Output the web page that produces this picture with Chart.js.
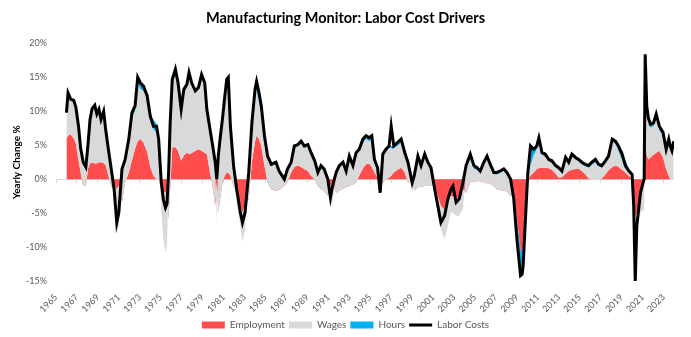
<!doctype html>
<html lang="en">
    <head>
        <meta charset="UTF-8" />
        <title>Manufacturing Monitor: Labor Cost Drivers</title>
        <script src="https://cdn.jsdelivr.net/npm/chart.js"></script>
        <style>
            body {
                margin: 0;
                background: #fff;
            }
            #chart-container {
                width: 691px;
                height: 337px;
            }
        </style>
    </head>
    <body>
        <div id="chart-container">
            <canvas id="laborChart"></canvas>
        </div>

        <script>
            // yearly change % (decimal years)
            const years = [
                1966.0, 1966.15, 1966.4, 1966.7, 1966.9, 1967.15, 1967.35, 1967.6, 1967.85, 1968.05,
                1968.25, 1968.45, 1968.7, 1968.9, 1969.1, 1969.3, 1969.55, 1969.75, 1970.0, 1970.3,
                1970.55, 1970.8, 1971.0, 1971.3, 1971.6, 1971.95, 1972.25, 1972.55, 1972.8, 1973.05,
                1973.35, 1973.7, 1974.0, 1974.3, 1974.6, 1974.8, 1975.05, 1975.25, 1975.45, 1975.6,
                1975.75, 1975.9, 1976.1, 1976.4, 1976.65, 1976.95, 1977.2, 1977.5, 1977.7, 1977.95,
                1978.3, 1978.6, 1978.9, 1979.2, 1979.4, 1979.7, 1979.95, 1980.2, 1980.35, 1980.5,
                1980.7, 1980.9, 1981.1, 1981.3, 1981.45, 1981.65, 1981.95, 1982.25, 1982.6, 1982.8,
                1983.05, 1983.4, 1983.7, 1984.0, 1984.15, 1984.35, 1984.6, 1984.9, 1985.2, 1985.55,
                1986.0, 1986.3, 1986.8, 1987.1, 1987.45, 1987.75, 1988.1, 1988.4, 1988.7, 1989.05,
                1989.35, 1989.7, 1990.0, 1990.3, 1990.6, 1990.95, 1991.2, 1991.4, 1991.75, 1992.05,
                1992.4, 1992.7, 1993.0, 1993.35, 1993.65, 1993.95, 1994.3, 1994.6, 1994.9, 1995.15,
                1995.4, 1995.7, 1995.95, 1996.2, 1996.5, 1996.8, 1997.0, 1997.25, 1997.6, 1997.95,
                1998.3, 1998.6, 1999.0, 1999.2, 1999.55, 1999.85, 2000.2, 2000.5, 2000.8, 2001.1,
                2001.45, 2001.75, 2002.1, 2002.4, 2002.7, 2002.9, 2003.2, 2003.5, 2003.85, 2004.15,
                2004.55, 2004.9, 2005.2, 2005.5, 2005.85, 2006.15, 2006.45, 2006.8, 2007.1, 2007.4,
                2007.75, 2008.05, 2008.4, 2008.7, 2009.0, 2009.35, 2009.5, 2009.6, 2009.8, 2010.05,
                2010.3, 2010.6, 2010.9, 2011.1, 2011.4, 2011.7, 2012.05, 2012.35, 2012.7, 2013.0,
                2013.3, 2013.65, 2013.95, 2014.25, 2014.6, 2014.9, 2015.2, 2015.5, 2015.85, 2016.15,
                2016.5, 2016.8, 2017.1, 2017.45, 2017.75, 2018.1, 2018.4, 2018.7, 2019.05, 2019.35,
                2019.7, 2020.0, 2020.15, 2020.3, 2020.45, 2020.8, 2021.05, 2021.15, 2021.25, 2021.4,
                2021.55, 2021.75, 2022.05, 2022.3, 2022.6, 2022.95, 2023.25, 2023.5, 2023.65, 2023.8,
                2023.97
            ];

            const employment = [
                6.0, 6.4, 6.6, 6.0, 5.2, 2.8, 1.0, -1.0, -1.0, 1.5,
                2.3, 2.5, 2.3, 2.3, 2.5, 2.5, 2.4, 2.0, 0.5, -1.2,
                -0.8, -1.5, -1.0, -3.4, -0.5, 1.0, 2.8, 4.5, 5.6, 5.9,
                5.4, 4.0, 1.8, 0.5, 0.0, 0.0, -1.0, -2.0, -2.0, -1.5,
                -5.9, -1.5, 4.7, 4.7, 4.2, 2.7, 3.5, 3.9, 3.7, 3.8,
                4.2, 4.4, 4.2, 3.9, 3.7, 1.0, -1.0, -3.9, -0.5, -4.9,
                -2.5, -0.5, 0.5, 1.0, 1.0, 0.5, -1.0, -2.0, -3.9, -4.9,
                -3.9, -2.9, 2.5, 5.5, 6.4, 6.0, 4.9, 2.0, -0.5, -1.5,
                -1.7, -1.6, -1.0, -0.5, 1.0, 1.8, 2.0, 1.8, 1.5, 1.2,
                0.5, 0.0, -1.0, -1.5, -1.7, -2.5, -1.0, -0.5, -2.0, -1.7,
                -1.4, -1.2, -1.0, -0.8, -0.5, 0.5, 1.6, 2.2, 2.3, 1.8,
                1.0, 0.2, -0.3, -0.5, 0.0, 0.2, 0.5, 1.0, 1.4, 1.7,
                1.0, -0.5, -0.3, -1.7, -1.2, -1.1, -1.0, -1.0, -1.0, -0.5,
                -2.5, -4.0, -4.5, -3.5, -2.5, -2.5, -2.8, -2.5, -1.5, -2.0,
                -0.5, -0.3, -0.3, -0.3, -0.5, -0.6, -0.7, -1.0, -1.5, -1.6,
                -1.7, -1.8, -2.5, -2.0, -5.9, -10.3, -10.8, -10.0, -5.5, 0.0,
                0.5, 1.0, 1.5, 1.6, 1.7, 1.7, 1.6, 1.4, 0.8, 0.2,
                0.3, 0.8, 1.2, 1.4, 1.5, 1.5, 1.2, 0.8, 0.1, 0.0,
                0.0, 0.0, 0.1, 0.7, 1.3, 1.8, 2.0, 1.8, 1.4, 1.0,
                0.5, 0.0, -2.5, -5.5, -5.0, -2.5, -1.0, -0.5, 5.9, 3.5,
                2.9, 3.2, 3.6, 3.9, 4.2, 3.2, 1.5, 0.5, 0.0, 0.0,
                0.0
            ];

            const wages = [
                3.5, 6.0, 4.9, 5.3, 5.1, 4.5, 3.0, 3.2, 2.5, 3.3,
                6.3, 7.7, 8.4, 7.1, 7.6, 6.1, 7.4, 5.0, 3.5, 2.2,
                -2.7, -6.3, -5.9, 4.6, 3.1, 4.6, 6.3, 5.5, 8.6, 7.4,
                7.6, 8.0, 7.2, 6.8, 6.9, 5.6, -3.5, -6.8, -8.8, -8.3,
                6.6, 9.5, 9.0, 10.7, 9.5, 7.4, 9.2, 9.6, 11.6, 10.1,
                8.5, 8.8, 10.9, 10.0, 6.4, 6.2, 5.8, 6.2, -5.9, 8.2,
                8.7, 9.3, 11.0, 13.2, 13.6, 7.0, 2.7, -1.4, -3.0, -4.4,
                -3.5, 3.6, 5.5, 7.0, 6.8, 5.5, 4.6, 4.0, 3.6, 3.4,
                3.9, 2.6, 0.8, 1.8, 1.3, 2.7, 2.8, 3.5, 3.1, 3.6,
                3.1, 2.4, 1.8, 3.0, 2.9, 2.3, -3.2, -2.9, 2.8, 3.4,
                3.6, 2.2, 4.1, 2.5, 4.1, 3.6, 3.8, 3.7, 3.3, 4.1,
                1.6, 1.2, -1.7, 3.9, 4.1, 4.4, 4.1, 3.6, 3.5, 3.7,
                2.4, 2.7, -1.7, 2.0, 4.3, 2.9, 4.4, 3.2, 2.4, -1.5,
                -2.4, -3.4, -4.3, -3.4, -2.4, -2.5, -2.6, -2.9, -2.9, 3.7,
                3.4, 1.8, 1.7, 1.2, 2.7, 3.7, 2.4, 1.7, 2.2, 2.5,
                2.9, 2.5, 2.3, -0.9, 0.0, 0.0, 0.0, 0.0, 0.0, 0.5,
                1.5, 2.5, 2.9, 4.0, 1.9, 1.6, 1.0, 1.0, 1.0, 1.3,
                0.7, 2.1, 1.0, 2.0, 1.4, 1.1, 1.0, 1.1, 1.6, 2.1,
                2.5, 1.9, 1.6, 1.7, 1.8, 3.8, 3.3, 2.3, 1.4, 0.9,
                0.5, 0.5, -1.0, -1.0, -1.0, -2.5, -3.5, -4.0, 5.0, 6.6,
                5.5, 4.4, 4.2, 5.1, 3.0, 3.2, 2.7, 5.1, 4.5, 4.0,
                5.4
            ];

            const hours = [
                0.3, 0.3, 0.3, 0.3, 0.3, 0.5, 0.6, 0.3, 0.3, 0.2,
                0.2, 0.2, 0.2, 0.2, 0.2, 0.2, 0.2, 0.2, 0.4, 0.2,
                0, 0, 0, 0.3, 0.3, 0.3, 0.7, 0.8, 0.8, 0.9,
                0.7, 0.3, 0.3, 1.5, 1.3, 0.3, 0, 0, 0, 0,
                0.3, 0.3, 1.0, 0.8, 0.5, 0.2, 0.5, 0.5, 0.4, 0.3,
                0.3, 0.3, 0.3, 0.3, 0.2, 0.2, 0.2, 0.2, 0, 0.2,
                0.2, 0.2, 0.5, 0.5, 0.4, 0.3, 0.3, 0, 0, 0,
                0, 0.3, 0.3, 0.7, 1.2, 1.5, 1.3, 0.4, 0.3, 0.3,
                0.3, 0.2, 0.2, 0.2, 0.2, 0.4, 0.3, 0.3, 0.3, 0.3,
                0.3, 0.3, 0.2, 0.5, 0.3, 0.2, 0, 0, 0.2, 0.3,
                0.3, 0.2, 0.3, 0.3, 0.3, 0.3, 0.5, 0.5, 0.5, 0.5,
                0.3, 0.3, 0, 0.3, 0.3, 0.3, 0.3, 0.3, 0.5, 0.5,
                0.5, 0.3, 0, 0.2, 0.3, 0.2, 0.3, 0.3, 0.3, 0,
                0, 0, 0, 0, 0, 0, 0, 0, 0, 0.3,
                0.8, 0.5, 0.3, 0.3, 0.3, 0.3, 0.5, 0.3, 0.3, 0.3,
                0.3, 0.3, 0.2, 0, -2.9, -3.9, -3.2, -2.7, -0.9, 0.5,
                2.9, 1.0, 0.5, 0.5, 0.3, 0.4, 0.3, 0.3, 0.2, 0.2,
                0.2, 0.3, 0.3, 0.3, 0.3, 0.3, 0.3, 0.3, 0.3, 0.4,
                0.4, 0.3, 0.3, 0.3, 0.3, 0.3, 0.3, 0.8, 0.9, 1.0,
                0.5, 0.3, 0, 0, 0, 0, 0, 0, 0.3, 0.5,
                0.5, 0.5, 0.6, 0.7, 0.7, 0.6, 0.3, 0.3, 0.3, 0.2,
                0.2
            ];

            const laborCosts = [
                9.8, 12.7, 11.8, 11.6, 10.6, 7.8, 4.6, 2.5, 1.8, 5.0,
                8.8, 10.4, 10.9, 9.6, 10.3, 8.8, 10.0, 7.2, 4.4, 1.2,
                -1.5, -6.4, -4.9, 1.5, 2.9, 5.9, 9.8, 10.8, 15.0, 14.2,
                13.7, 12.3, 9.3, 7.8, 7.8, 5.9, -0.5, -3.0, -4.2, -3.6,
                1.0, 8.3, 14.7, 16.2, 14.2, 10.3, 13.2, 14.0, 15.7, 14.2,
                13.0, 13.5, 15.4, 14.2, 10.3, 7.4, 5.0, 2.5, 0.0, 3.5,
                6.4, 9.0, 12.0, 14.7, 15.0, 7.8, 2.0, -1.5, -4.9, -6.4,
                -4.9, 1.0, 8.3, 13.2, 14.4, 13.0, 10.8, 6.4, 3.4, 2.2,
                2.5, 1.2, 0.0, 1.5, 2.5, 4.9, 5.1, 5.6, 4.9, 5.1,
                3.9, 2.7, 1.0, 2.0, 1.5, 0.0, -2.7, -1.0, 1.0, 2.0,
                2.5, 1.2, 3.4, 2.0, 3.9, 4.4, 5.9, 6.4, 6.1, 6.4,
                2.9, 1.7, -2.0, 3.7, 4.4, 4.9, 7.8, 4.9, 5.4, 5.9,
                3.9, 2.5, -0.5, 0.5, 3.4, 2.0, 3.7, 2.5, 1.7, -1.0,
                -3.9, -6.4, -5.4, -3.0, -1.5, -1.0, -3.4, -2.9, -0.5, 2.0,
                3.7, 2.0, 1.7, 1.2, 2.5, 3.4, 2.2, 1.0, 1.0, 1.2,
                1.5, 1.0, 0.0, -2.9, -8.8, -14.2, -14.0, -12.7, -6.4, 1.0,
                4.9, 4.4, 4.9, 6.1, 3.9, 3.7, 2.9, 2.7, 2.0, 1.7,
                1.2, 3.2, 2.5, 3.7, 3.2, 2.9, 2.5, 2.2, 2.0, 2.5,
                2.9, 2.2, 2.0, 2.7, 3.4, 5.9, 5.6, 4.9, 3.7, 2.0,
                1.2, 0.7, -3.9, -15.0, -6.9, -2.0, -0.5, 0.0, 18.4, 10.8,
                9.0, 8.1, 8.3, 9.6, 7.8, 6.9, 4.4, 5.9, 4.8, 4.2,
                5.6
            ];

            const tickYears = [];
            for (let y = 1965; y <= 2023; y += 2) tickYears.push(y);

            // Excel-style stacked area: each band sits on the running total
            const sum1 = employment.map((v) => v);
            const sum2 = sum1.map((v, i) => v + wages[i]);
            const sum3 = sum2.map((v, i) => v + hours[i]);
            const points = (arr) => arr.map((v, i) => ({ x: years[i], y: v }));

            Chart.defaults.font.family = "Lato, 'Liberation Sans', sans-serif";
            Chart.defaults.color = "#595959";

            const setTicks = (scale) => {
                scale.ticks = tickYears.map((v) => ({ value: v }));
            };

            new Chart(document.getElementById("laborChart"), {
                type: "line",
                data: {
                    datasets: [
                        {
                            label: "Employment",
                            data: points(sum1),
                            backgroundColor: "#FF4D4D",
                            borderColor: "rgba(0,0,0,0)",
                            borderWidth: 0,
                            pointRadius: 0,
                            fill: "origin",
                            order: 3,
                            pointStyle: "rect",
                        },
                        {
                            label: "Wages",
                            data: points(sum2),
                            backgroundColor: "#D9D9D9",
                            borderColor: "rgba(0,0,0,0)",
                            borderWidth: 0,
                            pointRadius: 0,
                            fill: "-1",
                            order: 2,
                            pointStyle: "rect",
                        },
                        {
                            label: "Hours",
                            data: points(sum3),
                            backgroundColor: "#00B0F0",
                            borderColor: "rgba(0,0,0,0)",
                            borderWidth: 0,
                            pointRadius: 0,
                            fill: "-1",
                            order: 1,
                            pointStyle: "rect",
                        },
                        {
                            label: "Labor Costs",
                            data: points(laborCosts),
                            borderColor: "#000000",
                            backgroundColor: "#000000",
                            borderWidth: 3,
                            pointRadius: 0,
                            fill: false,
                            order: 0,
                            pointStyle: "line",
                        },
                    ],
                },
                options: {
                    responsive: true,
                    maintainAspectRatio: false,
                    animation: false,
                    layout: {
                        padding: { top: 0, right: 0, bottom: -3, left: 0 },
                    },
                    plugins: {
                        title: {
                            display: true,
                            text: "Manufacturing Monitor: Labor Cost Drivers",
                            color: "#000000",
                            font: { size: 14.5, weight: "bold" },
                            padding: { top: 10, bottom: 16 },
                        },
                        legend: {
                            position: "bottom",
                            labels: {
                                usePointStyle: true,
                                pointStyleWidth: 23,
                                boxHeight: 7,
                                padding: 4,
                                color: "#595959",
                                font: { size: 10 },
                                sort: (a, b) => a.datasetIndex - b.datasetIndex,
                            },
                        },
                        tooltip: { enabled: false },
                    },
                    scales: {
                        x: {
                            type: "linear",
                            min: 1965,
                            max: 2024,
                            grid: { display: false },
                            border: { display: false },
                            afterBuildTicks: setTicks,
                            afterFit: (scale) => {
                                scale.height = 35;
                            },
                            ticks: {
                                autoSkip: false,
                                minRotation: 45,
                                maxRotation: 45,
                                padding: 3,
                                font: { size: 9 },
                                callback: (v) => String(v),
                            },
                        },
                        x0: {
                            type: "linear",
                            position: { y: 0 },
                            min: 1965,
                            max: 2024,
                            afterBuildTicks: setTicks,
                            border: { display: false },
                            grid: {
                                drawOnChartArea: false,
                                drawTicks: true,
                                tickLength: 4,
                                color: "#D9D9D9",
                            },
                            ticks: { display: false },
                        },
                        y: {
                            min: -15,
                            max: 20,
                            afterFit: (scale) => {
                                scale.width = 56;
                            },
                            border: { display: false },
                            grid: {
                                drawTicks: false,
                                color: (c) =>
                                    c.tick && c.tick.value === 0
                                        ? "#D9D9D9"
                                        : "rgba(0,0,0,0)",
                            },
                            ticks: {
                                stepSize: 5,
                                padding: 9,
                                font: { size: 9 },
                                callback: (v) => v + "%",
                            },
                            title: {
                                display: true,
                                text: "Yearly Change %",
                                color: "#000000",
                                font: { size: 10, weight: "bold" },
                                padding: { top: 11, bottom: 0 },
                            },
                        },
                        // empty right-hand gutter, keeps title and legend centred on the page
                        yRight: {
                            position: "right",
                            min: -15,
                            max: 20,
                            grid: { display: false },
                            border: { display: false },
                            ticks: { display: false },
                            afterFit: (scale) => {
                                scale.width = 17;
                            },
                        },
                    },
                },
            });
        </script>
    </body>
</html>
